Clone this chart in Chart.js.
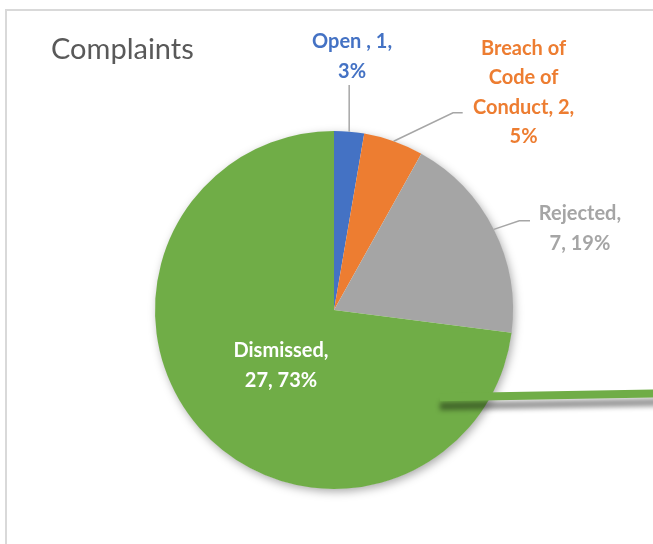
<!DOCTYPE html>
<html>
<head>
<meta charset="utf-8">
<script src="https://cdn.jsdelivr.net/npm/chart.js@4.4.1/dist/chart.umd.min.js"></script>
<style>
  html, body { margin: 0; padding: 0; background: #fff; }
  canvas { display: block; }
</style>
</head>
<body>
<canvas id="myChart" width="653" height="544"></canvas>
<script>
  // data
  const chartTitle = 'Complaints';
  const categories = ['Open ', 'Breach of Code of Conduct', 'Rejected', 'Dismissed'];
  const counts = [1, 2, 7, 27];
  const sliceColors = ['#4472C4', '#ED7D31', '#A5A5A5', '#70AD47'];
  const labelColors = ['#4472C4', '#ED7D31', '#A5A5A5', '#FFFFFF'];

  const total = counts.reduce((a, b) => a + b, 0);

  // label placement, in units of the pie radius from its centre
  const labelSpots = [
    { dx: 0.101, dy: -1.503, wrap: 96, leader: [[null, -1.257]] },
    { dx: 1.059, dy: -1.469, wrap: 120, leader: [[0.665, -1.102], [0.719, -1.102]] },
    { dx: 1.374, dy: -0.542, wrap: 96, leader: [[1.035, -0.499], [1.095, -0.499]] },
    { dx: -0.296, dy: 0.223, wrap: 110, leader: null }
  ];

  const labelFont = 'bold 20px Lato';
  const lineGap = 29.5;

  function wrapText(ctx, text, maxWidth) {
    const words = text.split(' ');
    const lines = [];
    let cur = '';
    words.forEach(w => {
      const test = cur ? cur + ' ' + w : w;
      if (cur && ctx.measureText(test).width > maxWidth) {
        lines.push(cur);
        cur = w;
      } else {
        cur = test;
      }
    });
    if (cur) lines.push(cur);
    return lines;
  }

  const framePlugin = {
    id: 'frame',
    beforeDraw(chart) {
      const ctx = chart.ctx;
      ctx.save();
      ctx.fillStyle = '#fff';
      ctx.fillRect(0, 0, chart.width, chart.height);
      ctx.strokeStyle = '#d9d9d9';
      ctx.lineWidth = 2;
      ctx.beginPath();
      ctx.moveTo(6, chart.height + 2);
      ctx.lineTo(6, 10);
      ctx.lineTo(chart.width + 2, 10);
      ctx.stroke();
      ctx.fillStyle = '#595959';
      ctx.font = '29px Lato';
      ctx.textBaseline = 'alphabetic';
      ctx.fillText(chartTitle, 51, 59);
      ctx.restore();
    }
  };

  const pieDecor = {
    id: 'pieDecor',
    beforeDatasetsDraw(chart) {
      const arc = chart.getDatasetMeta(0).data[0];
      const ctx = chart.ctx;
      ctx.save();
      ctx.shadowColor = 'rgba(0,0,0,0.35)';
      ctx.shadowBlur = 10;
      ctx.shadowOffsetX = 2;
      ctx.shadowOffsetY = 3;
      ctx.fillStyle = '#fff';
      ctx.beginPath();
      ctx.arc(arc.x, arc.y, arc.outerRadius - 0.5, 0, Math.PI * 2);
      ctx.fill();
      ctx.restore();
    },
    afterDatasetsDraw(chart) {
      const arcs = chart.getDatasetMeta(0).data;
      const ctx = chart.ctx;
      const cx = arcs[0].x, cy = arcs[0].y, r = arcs[0].outerRadius;

      // stray green connector running off to the right
      ctx.save();
      ctx.shadowColor = 'rgba(0,0,0,0.4)';
      ctx.shadowBlur = 5;
      ctx.shadowOffsetY = 9;
      ctx.strokeStyle = sliceColors[3];
      ctx.lineWidth = 8;
      ctx.beginPath();
      ctx.moveTo(cx + 0.592 * r, cy + 0.488 * r);
      ctx.lineTo(cx + 1.85 * r, cy + 0.465 * r);
      ctx.stroke();
      ctx.restore();

      ctx.save();
      ctx.font = labelFont;
      ctx.textAlign = 'center';
      ctx.textBaseline = 'middle';
      arcs.forEach((arc, i) => {
        const spot = labelSpots[i];
        const mid = (arc.startAngle + arc.endAngle) / 2;
        const px = cx + Math.cos(mid) * r;
        const py = cy + Math.sin(mid) * r;
        if (spot.leader) {
          ctx.strokeStyle = '#A6A6A6';
          ctx.lineWidth = 1.5;
          ctx.beginPath();
          ctx.moveTo(px, py);
          spot.leader.forEach(p => {
            const lx = p[0] === null ? px : cx + p[0] * r;
            ctx.lineTo(lx, cy + p[1] * r);
          });
          ctx.stroke();
        }
        const pct = Math.round(counts[i] / total * 100);
        const text = `${categories[i]}, ${counts[i]}, ${pct}%`;
        const lines = wrapText(ctx, text, spot.wrap);
        ctx.fillStyle = labelColors[i];
        lines.forEach((ln, k) => {
          ctx.fillText(ln, cx + spot.dx * r, cy + spot.dy * r + k * lineGap + 1);
        });
      });
      ctx.restore();
    }
  };

  const ctx = document.getElementById('myChart').getContext('2d');
  const myPie = new Chart(ctx, {
    type: 'pie',
    data: {
      labels: categories,
      datasets: [{
        data: counts,
        backgroundColor: sliceColors,
        borderWidth: 0
      }]
    },
    options: {
      responsive: false,
      animation: false,
      layout: { padding: { left: 155, right: 140, top: 131, bottom: 55 } },
      plugins: {
        legend: { display: false },
        tooltip: { enabled: false }
      }
    },
    plugins: [framePlugin, pieDecor]
  });
</script>
</body>
</html>
